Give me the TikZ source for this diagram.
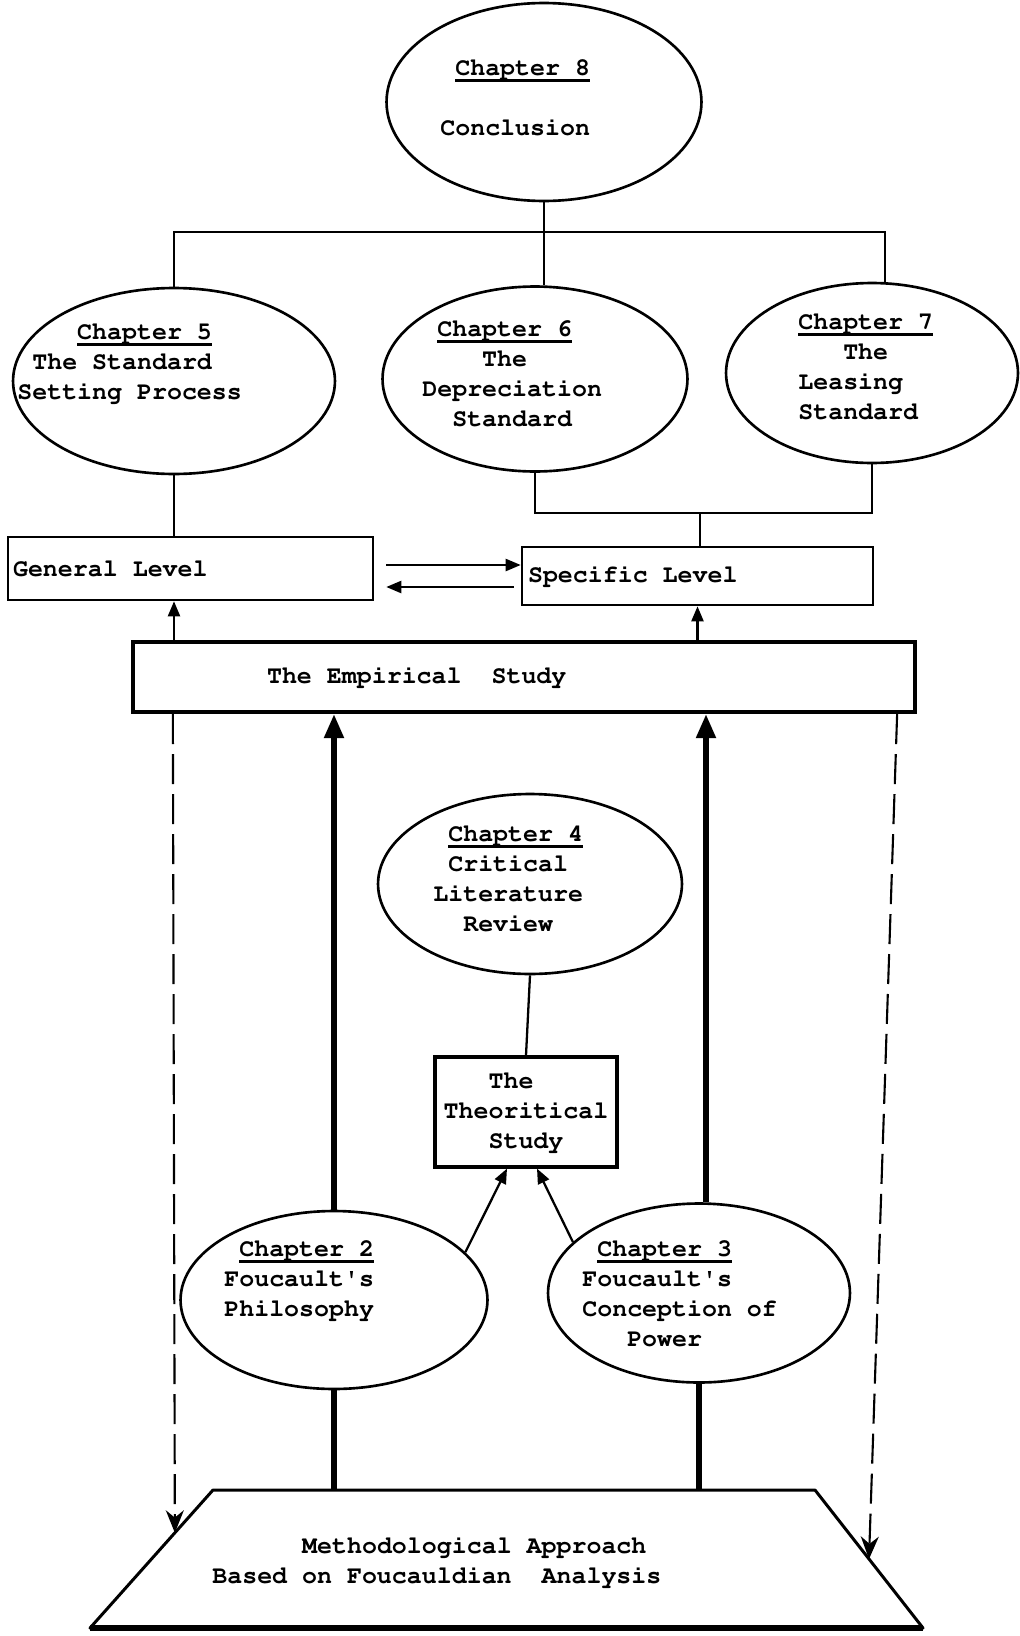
\documentclass[tikz,border=0pt]{standalone}
\usepackage[T1]{fontenc}
\usepackage{courier}
\usetikzlibrary{shapes.geometric,arrows.meta,calc,positioning}

\newcommand\typefont{\fontsize{14.2}{17.1}\selectfont\ttfamily\bfseries}
\newcommand\chapline[1]{\rlap{\rule[-0.26em]{5.4em}{0.1em}}Chapter~#1}

\tikzset{
  chapell/.style={draw, ellipse, line width=1.5pt, inner sep=0pt},
  chaptxt/.style={anchor=north west, inner sep=0pt, align=left, font=\typefont},
  levelbox/.style={draw, line width=1.5pt, align=flush left, font=\typefont, inner ysep=0pt},
  lnk/.style={line width=1.3pt},
  thk/.style={line width=3pt},
  arr/.style={lnk, -{Triangle[length=0.3cm,width=0.24cm]}},
  thkarr/.style={thk, -{Triangle[length=0.48cm,width=0.38cm]}},
  dsh/.style={line width=1.2pt, dash pattern=on 0.6cm off 0.2cm, -{Stealth[length=0.45cm,width=0.36cm]}}
}

\begin{document}
\begin{tikzpicture}[x=0.02cm, y=-0.02cm]
  \useasboundingbox (0,0) rectangle (1020,1636);

  \node[chapell, minimum width=6.3cm, minimum height=3.96cm] (ch8) at (544,102) {};
  \node[chaptxt] (ch8t) at (440,59) {\hphantom{x}\chapline{8}\\[0.6cm]Conclusion};

  \node[chapell, minimum width=6.44cm, minimum height=3.72cm] (ch5) at (174,381) {};
  \node[chaptxt] (ch5t) at (17,323) {\hphantom{xxxx}\chapline{5}\\\hphantom{x}The Standard\\Setting Process};
  \node[chapell, minimum width=6.1cm, minimum height=3.7cm] (ch6) at (535,379) {};
  \node[chaptxt] (ch6t) at (422,320) {\hphantom{x}\chapline{6}\\\hphantom{xxxx}The\\Depreciation\\\hphantom{xx}Standard};
  \node[chapell, minimum width=5.84cm, minimum height=3.6cm] (ch7) at (872,373) {};
  \node[chaptxt] (ch7t) at (798,313) {\chapline{7}\\\hphantom{xxx}The\\Leasing\\Standard};

  \node[levelbox, text width=7.1cm, inner xsep=0.1cm, minimum height=1.26cm] (gen) at (190.5,568.5) {General Level};
  \node[levelbox, text width=6.78cm, inner xsep=0.12cm, minimum height=1.16cm] (spec) at (697.5,576) {Specific Level};
  \node[levelbox, line width=2.5pt, text width=10.28cm, inner xsep=2.68cm, minimum height=1.4cm] (emp) at (524,677) {The Empirical~~Study};

  \node[chapell, minimum width=6.08cm, minimum height=3.6cm] (ch4) at (530,884) {};
  \node[chaptxt] (ch4t) at (433,825) {\hphantom{x}\chapline{4}\\\hphantom{x}Critical\\Literature\\\hphantom{xx}Review};
  \node[draw, line width=1.8pt, align=left, font=\typefont, inner sep=0pt,
        minimum width=3.64cm, minimum height=2.2cm] (theo) at (526,1112) {\hphantom{xxx}The\\Theoritical\\\hphantom{xxx}Study};

  \node[chapell, minimum width=6.14cm, minimum height=3.56cm] (ch2) at (334,1300) {};
  \node[chaptxt] (ch2t) at (224,1240) {\hphantom{x}\chapline{2}\\Foucault\textquotesingle s\\Philosophy};
  \node[chapell, minimum width=6.04cm, minimum height=3.58cm] (ch3) at (699,1293) {};
  \node[chaptxt] (ch3t) at (582,1240) {\hphantom{x}\chapline{3}\\Foucault\textquotesingle s\\Conception of\\\hphantom{xxx}Power};

  \coordinate (mtl) at (213,1490);
  \coordinate (mtr) at (815,1490);
  \coordinate (mbr) at (923,1628);
  \coordinate (mbl) at (90,1628);
  \draw[line width=1.7pt, line join=round] (mtl) -- (mtr) -- (mbr) -- (mbl) -- cycle;
  \draw[thk] (mbl) -- (mbr);
  \node[chaptxt] (metht) at (212,1536) {\hphantom{xxxxxx}Methodological Approach\\Based on Foucauldian~~Analysis};

  \coordinate (bar) at (544,232);
  \coordinate (join) at (700,513);
  \draw[lnk] (ch8.south) -- (ch8.south |- ch6.north);
  \draw[lnk] (ch5.north) |- (bar) -| (ch7.82);
  \draw[lnk] (ch5.south) -- (ch5.south |- gen.north);
  \draw[lnk] (ch6.south) |- (join) -| (ch7.south);
  \draw[lnk] (join) -- (join |- spec.north);

  \draw[arr] ([xshift=0.24cm,yshift=0.07cm]gen.east) coordinate (g1) -- (spec.west |- g1);
  \draw[arr] ([xshift=-0.14cm,yshift=-0.22cm]spec.west) coordinate (s1) -- ([xshift=0.24cm]gen.east |- s1);
  \draw[arr] (ch5.south |- emp.north) -- (ch5.south |- gen.south);
  \draw[arr] (spec.south |- emp.north) -- (spec.south);

  \draw[thkarr] (ch2.north) -- (ch2.north |- emp.south);
  \draw[thkarr] ([xshift=0.14cm]ch3.north) -- ([xshift=0.14cm]ch3.north |- emp.south);
  \draw[thk] (ch2.south) -- (ch2.south |- mtl);
  \draw[thk] (ch3.south) -- (ch3.south |- mtl);

  \draw[lnk] (ch4.south) -- (theo.north);
  \draw[arr] (ch2.20) -- ($(theo.south)+(-19,0)$);
  \draw[arr] (ch3.158) -- ($(theo.south)+(11,0)$);

  \draw[dsh] ([xshift=0.84cm]emp.south west) -- ($(mtl)!0.31!(mbl)$);
  \draw[dsh] ([xshift=-0.4cm]emp.south east) -- ($(mtr)!0.5!(mbr)$);
\end{tikzpicture}
\end{document}
